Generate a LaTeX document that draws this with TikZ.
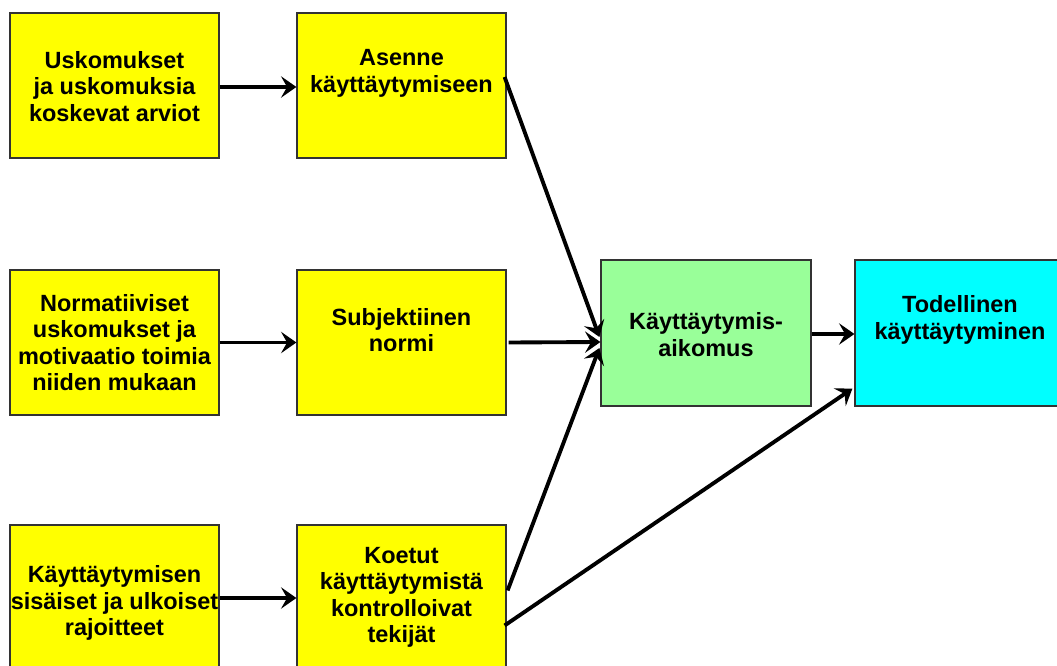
\documentclass[tikz,border=0pt]{standalone}
\usepackage{fontspec}
\setmainfont{Liberation Sans}
\usetikzlibrary{arrows.meta,calc}
\definecolor{boxyellow}{HTML}{FFFF00}
\definecolor{boxgreen}{HTML}{99FF99}
\definecolor{boxcyan}{HTML}{00FFFF}
\definecolor{edgegray}{HTML}{333333}
\tikzset{
  box/.style={draw=edgegray, line width=0.9pt, inner sep=0pt,
    minimum width=156.75pt, minimum height=108.75pt},
  ybox/.style={box, fill=boxyellow},
  gbox/.style={box, fill=boxgreen, minimum width=157.5pt, minimum height=109.5pt},
  cbox/.style={box, fill=boxcyan, minimum width=157.5pt, minimum height=109.5pt},
  txt/.style={align=center, inner sep=0pt, font=\fontsize{17.6}{19.9}\selectfont\bfseries},
  arr/.style={line width=2.9pt, -{Stealth[length=11.5pt, width=16pt, inset=4.5pt]}}
}
\begin{document}
\begin{tikzpicture}[x=0.75pt, y=-0.75pt]
\useasboundingbox (0,0) rectangle (1057,666);
\clip (0,0) rectangle (1057,666);
\fill[white] (0,0) rectangle (1057,666);
% boxes
\node[ybox] (A1) at (114.5,85.5) {};
\node[ybox] (A2) at (401.5,85.5) {};
\node[ybox] (B1) at (114.5,342.5) {};
\node[ybox] (B2) at (401.5,342.5) {};
\node[ybox] (C1) at (114.5,597.5) {};
\node[ybox] (C2) at (401.5,597.5) {};
\node[gbox] (G) at (706,333) {};
\node[cbox] (T) at (960,333) {};
% texts
\node[txt] (tA1) at ($(A1.center)+(0,1)$) {Uskomukset\\ja uskomuksia\\koskevat arviot};
\node[txt] (tA2) at ($(A2.center)+(0,-12)$) {Asenne\\käyttäytymiseen};
\node[txt] (tB1) at ($(B1.center)+(0,0)$) {Normatiiviset\\uskomukset ja\\motivaatio toimia\\niiden mukaan};
\node[txt] (tB2) at ($(B2.center)+(0,-12.5)$) {Subjektiinen\\normi};
\node[txt] (tC1) at ($(C1.center)+(0,5.5)$) {Käyttäytymisen\\sisäiset ja ulkoiset\\rajoitteet};
\node[txt] (tC2) at ($(C2.center)+(0,0)$) {Koetut\\käyttäytymistä\\kontrolloivat\\tekijät};
\node[txt] (tG) at ($(G.center)+(0,1.5)$) {Käyttäytymis-\\aikomus};
\node[txt] (tT) at ($(T.center)+(0,-13)$) {Todellinen\\käyttäytyminen};
% arrows
\draw[arr] ($(A1.east)+(0,1.5)$) -- ($(A2.west)+(0,1.5)$);
\draw[arr] ($(B1.east)+(0,0)$) -- ($(B2.west)+(0,0)$);
\draw[arr] ($(C1.east)+(0,0.5)$) -- ($(C2.west)+(0,0.5)$);
\draw[arr] ($(A2.east)+(-2,-8.5)$) -- ($(G.west)+(-1,4)$);
\draw[arr] ($(B2.east)+(2,0)$) -- ($(G.west)+(0,9)$);
\draw[arr] ($(C2.east)+(1,-7)$) -- ($(G.west)+(-1,15)$);
\draw[arr] ($(C2.east)+(-2,28)$) -- ($(T.south west)+(-2,-18)$);
\draw[arr] ($(G.east)+(0,1)$) -- ($(T.west)+(0,1)$);
\end{tikzpicture}
\end{document}
